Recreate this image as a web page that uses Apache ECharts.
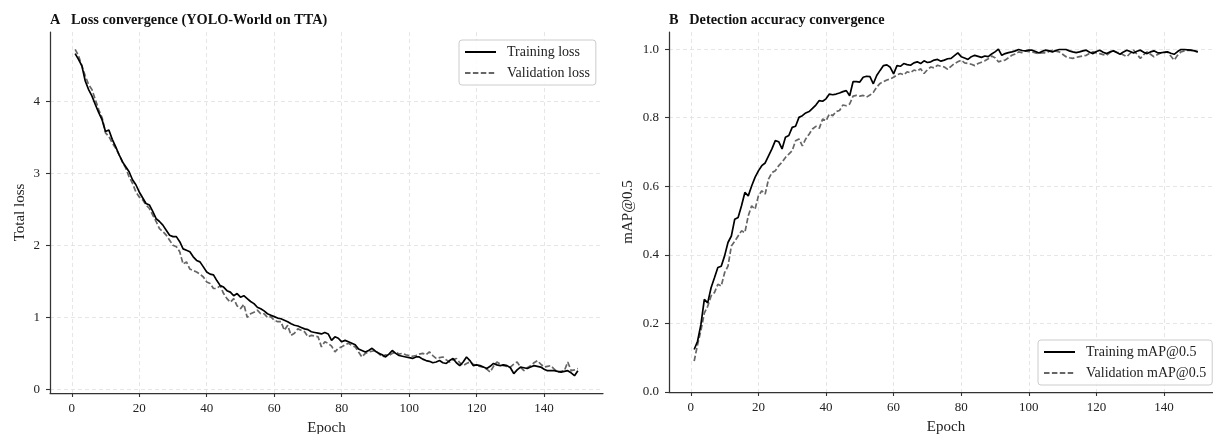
<!DOCTYPE html>
<html>
<head>
<meta charset="utf-8">
<script src="https://cdn.jsdelivr.net/npm/echarts@6/dist/echarts.min.js"></script>
<style>
  html, body { margin: 0; padding: 0; background: #fff; }
  #chart { width: 1213px; height: 434px; }
</style>
</head>
<body>
<div id="chart"></div>
<script>
// epochs 1..150
const epochs = Array.from({ length: 150 }, (_, i) => i + 1)

// tick labels
const epochTicks = [0, 20, 40, 60, 80, 100, 120, 140]
const lossTicks = [0, 1, 2, 3, 4]
const mapTicks = [0, 0.2, 0.4, 0.6, 0.8, 1.0]

// panel A: total loss
const trainLoss = [
  4.66, 4.58, 4.49, 4.28, 4.16, 4.07, 3.95, 3.84, 3.74, 3.58,
  3.60, 3.47, 3.37, 3.26, 3.16, 3.09, 3.02, 2.91, 2.84, 2.74,
  2.66, 2.58, 2.56, 2.47, 2.37, 2.33, 2.28, 2.21, 2.14, 2.12,
  2.12, 2.05, 1.95, 1.93, 1.91, 1.84, 1.79, 1.77, 1.70, 1.63,
  1.60, 1.59, 1.51, 1.44, 1.42, 1.37, 1.35, 1.30, 1.33, 1.28,
  1.30, 1.26, 1.22, 1.19, 1.14, 1.12, 1.09, 1.05, 1.03, 1.01,
  0.99, 0.98, 0.96, 0.94, 0.91, 0.89, 0.88, 0.86, 0.84, 0.83,
  0.80, 0.79, 0.78, 0.77, 0.79, 0.77, 0.68, 0.73, 0.71, 0.66,
  0.68, 0.66, 0.64, 0.62, 0.56, 0.54, 0.52, 0.54, 0.57, 0.53,
  0.50, 0.48, 0.45, 0.49, 0.54, 0.50, 0.47, 0.46, 0.45, 0.44,
  0.43, 0.45, 0.45, 0.42, 0.40, 0.39, 0.37, 0.38, 0.40, 0.37,
  0.36, 0.40, 0.43, 0.37, 0.33, 0.38, 0.45, 0.40, 0.33, 0.34,
  0.33, 0.31, 0.29, 0.32, 0.36, 0.34, 0.33, 0.34, 0.33, 0.30,
  0.22, 0.27, 0.31, 0.30, 0.29, 0.31, 0.33, 0.32, 0.31, 0.28,
  0.26, 0.26, 0.26, 0.25, 0.24, 0.25, 0.26, 0.23, 0.19, 0.26
]
const valLoss = [
  4.72, 4.63, 4.49, 4.35, 4.23, 4.16, 4.02, 3.88, 3.77, 3.56,
  3.51, 3.42, 3.35, 3.26, 3.16, 3.07, 2.95, 2.86, 2.74, 2.67,
  2.63, 2.56, 2.51, 2.42, 2.33, 2.23, 2.19, 2.14, 2.07, 2.00,
  1.98, 1.91, 1.74, 1.77, 1.67, 1.65, 1.63, 1.60, 1.56, 1.49,
  1.47, 1.40, 1.40, 1.44, 1.33, 1.26, 1.21, 1.26, 1.16, 1.12,
  1.18, 1.00, 1.05, 1.07, 1.10, 1.05, 1.05, 1.00, 1.01, 0.96,
  0.94, 0.94, 0.82, 0.89, 0.75, 0.78, 0.84, 0.82, 0.80, 0.73,
  0.75, 0.74, 0.73, 0.59, 0.66, 0.64, 0.60, 0.52, 0.57, 0.59,
  0.62, 0.64, 0.61, 0.59, 0.52, 0.45, 0.50, 0.52, 0.53, 0.54,
  0.50, 0.45, 0.48, 0.47, 0.50, 0.52, 0.49, 0.50, 0.48, 0.47,
  0.46, 0.47, 0.49, 0.50, 0.48, 0.52, 0.47, 0.43, 0.44, 0.45,
  0.41, 0.38, 0.41, 0.43, 0.37, 0.33, 0.36, 0.38, 0.35, 0.33,
  0.32, 0.31, 0.28, 0.24, 0.32, 0.38, 0.35, 0.33, 0.32, 0.31,
  0.35, 0.38, 0.31, 0.26, 0.30, 0.33, 0.37, 0.40, 0.35, 0.31,
  0.32, 0.33, 0.28, 0.24, 0.25, 0.26, 0.38, 0.26, 0.27, 0.29
]

// panel B: mAP@0.5
const trainMap = [
  0.124, 0.148, 0.197, 0.270, 0.260, 0.304, 0.333, 0.363, 0.367, 0.397,
  0.436, 0.455, 0.504, 0.509, 0.543, 0.582, 0.572, 0.601, 0.626, 0.645,
  0.660, 0.668, 0.689, 0.709, 0.733, 0.730, 0.709, 0.743, 0.748, 0.772,
  0.775, 0.801, 0.806, 0.814, 0.818, 0.827, 0.837, 0.850, 0.848, 0.855,
  0.869, 0.867, 0.869, 0.872, 0.876, 0.879, 0.864, 0.905, 0.905, 0.904,
  0.918, 0.921, 0.920, 0.899, 0.923, 0.938, 0.952, 0.954, 0.947, 0.928,
  0.952, 0.950, 0.958, 0.955, 0.953, 0.960, 0.963, 0.958, 0.966, 0.961,
  0.963, 0.968, 0.970, 0.965, 0.968, 0.972, 0.973, 0.981, 0.989, 0.978,
  0.974, 0.970, 0.978, 0.982, 0.979, 0.976, 0.980, 0.978, 0.986, 0.992,
  1.000, 0.982, 0.987, 0.990, 0.992, 0.995, 0.999, 0.996, 0.995, 0.997,
  0.997, 0.993, 0.989, 0.994, 0.997, 0.995, 0.992, 0.996, 0.999, 0.999,
  0.999, 0.995, 0.992, 0.990, 0.992, 0.995, 0.997, 0.991, 0.987, 0.993,
  0.997, 0.991, 0.987, 0.992, 0.995, 0.990, 0.985, 0.992, 0.997, 0.993,
  0.989, 0.994, 0.997, 0.991, 0.987, 0.992, 0.995, 0.990, 0.989, 0.991,
  0.992, 0.988, 0.985, 0.993, 0.999, 0.999, 0.998, 0.997, 0.995, 0.992
]
const valMap = [
  0.090, 0.138, 0.180, 0.230, 0.250, 0.280, 0.290, 0.314, 0.309, 0.348,
  0.367, 0.426, 0.440, 0.455, 0.470, 0.465, 0.514, 0.543, 0.533, 0.572,
  0.587, 0.577, 0.621, 0.640, 0.645, 0.660, 0.670, 0.684, 0.694, 0.704,
  0.733, 0.738, 0.718, 0.738, 0.752, 0.767, 0.775, 0.769, 0.796, 0.791,
  0.811, 0.806, 0.818, 0.821, 0.837, 0.835, 0.840, 0.863, 0.865, 0.863,
  0.865, 0.860, 0.866, 0.874, 0.889, 0.900, 0.905, 0.910, 0.913, 0.918,
  0.925, 0.929, 0.925, 0.934, 0.931, 0.939, 0.936, 0.943, 0.929, 0.940,
  0.948, 0.945, 0.953, 0.950, 0.948, 0.941, 0.950, 0.958, 0.963, 0.968,
  0.960, 0.958, 0.956, 0.952, 0.958, 0.962, 0.966, 0.972, 0.980, 0.975,
  0.963, 0.966, 0.968, 0.975, 0.982, 0.986, 0.992, 0.990, 0.995, 0.993,
  0.992, 0.989, 0.987, 0.990, 0.989, 0.993, 0.997, 0.994, 0.992, 0.985,
  0.978, 0.975, 0.973, 0.976, 0.978, 0.980, 0.982, 0.988, 0.992, 0.989,
  0.987, 0.984, 0.982, 0.990, 0.995, 0.991, 0.989, 0.983, 0.978, 0.988,
  0.997, 0.985, 0.973, 0.984, 0.992, 0.985, 0.978, 0.984, 0.989, 0.990,
  0.992, 0.980, 0.968, 0.982, 0.992, 0.995, 0.997, 0.996, 0.995, 0.992
]

const font = 'Liberation Serif'
const textColor = '#222'
const axisColor = '#333'

function pairs(values) {
  return epochs.map((e, i) => [e, values[i]])
}

// shared look of both x axes
function epochAxis(gridIndex) {
  return {
    type: 'value',
    gridIndex: gridIndex,
    min: -6.45,
    max: 157.45,
    name: 'Epoch',
    nameLocation: 'middle',
    nameGap: 28,
    nameTextStyle: { fontFamily: font, fontSize: 15, color: textColor },
    axisLine: { onZero: false, lineStyle: { color: axisColor, width: 1.25 } },
    axisTick: { show: true, length: 4, customValues: epochTicks, lineStyle: { color: axisColor, width: 1.1 } },
    axisLabel: { customValues: epochTicks, fontFamily: font, fontSize: 13, color: textColor, margin: 9 },
    splitLine: { show: true, lineStyle: { color: '#e0e0e0', width: 0.8, type: [4, 3] } },
  }
}

function valueAxis(gridIndex, name, min, max, ticks, gap, fmt) {
  return {
    type: 'value',
    gridIndex: gridIndex,
    min: min,
    max: max,
    name: name,
    nameLocation: 'middle',
    nameGap: gap,
    nameTextStyle: { fontFamily: font, fontSize: 15, color: textColor },
    axisLine: { show: true, onZero: false, lineStyle: { color: axisColor, width: 1.25 } },
    axisTick: { show: true, length: 4, customValues: ticks, lineStyle: { color: axisColor, width: 1.1 } },
    axisLabel: { customValues: ticks, fontFamily: font, fontSize: 13, color: textColor, margin: 10, formatter: fmt },
    splitLine: { show: true, lineStyle: { color: '#e0e0e0', width: 0.8, type: [4, 3] } },
  }
}

function lineSeries(name, values, axisIndex, dashed) {
  return {
    name: name,
    type: 'line',
    xAxisIndex: axisIndex,
    yAxisIndex: axisIndex,
    data: pairs(values),
    symbol: 'none',
    animation: false,
    itemStyle: { color: dashed ? '#666' : '#000' },
    lineStyle: { color: dashed ? '#666' : '#000', width: 1.7, type: dashed ? [5.5, 2.4] : 'solid' },
    z: dashed ? 3 : 4,
  }
}

function legendBox(names, left, top) {
  return {
    data: names,
    orient: 'vertical',
    left: left,
    top: top,
    padding: [5, 6, 5, 5],
    itemWidth: 31,
    itemHeight: 14,
    itemGap: 7,
    // hide the marker, keep only the line sample
    itemStyle: { opacity: 0 },
    backgroundColor: 'rgba(255,255,255,0.85)',
    borderColor: '#cccccc',
    borderWidth: 1,
    borderRadius: 3,
    textStyle: { fontFamily: font, fontSize: 14, color: textColor, padding: [0, 0, 0, 6] },
  }
}

const chartInstance = echarts.init(document.getElementById('chart'))

const option = {
  backgroundColor: '#fff',
  animation: false,
  title: [
    { text: 'A   Loss convergence (YOLO-World on TTA)', left: 50, top: 13, padding: 0,
      textStyle: { fontFamily: font, fontSize: 14.3, fontWeight: 'bold', color: '#111' } },
    { text: 'B   Detection accuracy convergence', left: 669, top: 13, padding: 0,
      textStyle: { fontFamily: font, fontSize: 14.3, fontWeight: 'bold', color: '#111' } },
  ],
  legend: [
    legendBox(['Training loss', 'Validation loss'], 459, 40),
    legendBox(['Training mAP@0.5', 'Validation mAP@0.5'], 1038, 340),
  ],
  grid: [
    { left: 50, top: 32, right: 610, bottom: 41, outerBoundsMode: 'none' },
    { left: 669, top: 32, right: -10, bottom: 42, outerBoundsMode: 'none' },
  ],
  xAxis: [epochAxis(0), epochAxis(1)],
  yAxis: [
    valueAxis(0, 'Total loss', -0.05, 4.96, lossTicks, 22, (v) => String(v)),
    valueAxis(1, 'mAP@0.5', 0, 1.05, mapTicks, 33, (v) => v.toFixed(1)),
  ],
  series: [
    lineSeries('Training loss', trainLoss, 0, false),
    lineSeries('Validation loss', valLoss, 0, true),
    lineSeries('Training mAP@0.5', trainMap, 1, false),
    lineSeries('Validation mAP@0.5', valMap, 1, true),
  ],
}

chartInstance.setOption(option)
</script>
</body>
</html>
